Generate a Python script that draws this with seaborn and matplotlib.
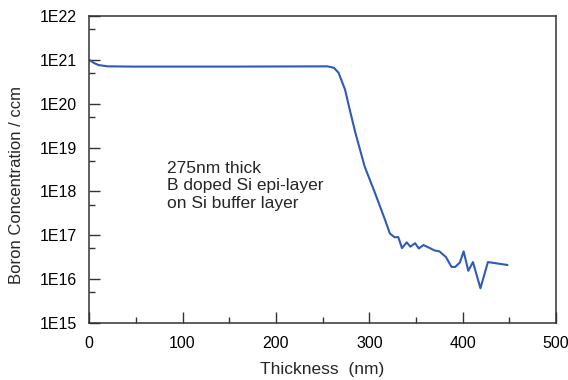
import matplotlib
matplotlib.use("Agg")
import matplotlib.pyplot as plt
import numpy as np
import pandas as pd
import seaborn as sns
from matplotlib.ticker import LogLocator, FuncFormatter, MultipleLocator

# depth profile
thickness = [0, 5, 10, 20, 50, 100, 150, 200, 255, 262, 267, 274, 278, 285,
             295, 306, 317, 322, 327, 331, 335, 340, 344, 349, 353, 358, 370,
             375, 382, 388, 392, 397, 401, 406, 411, 419, 427, 448]
concentration = [1.0e21, 8.5e20, 7.6e20, 7.1e20, 7.0e20, 7.0e20, 7.0e20, 7.05e20,
                 7.1e20, 6.6e20, 5.1e20, 2.1e20, 9.0e19, 2.2e19, 3.7e18, 9.3e17,
                 2.2e17, 1.1e17, 9.0e16, 9.1e16, 5.1e16, 6.9e16, 5.5e16, 6.6e16,
                 5.0e16, 6.0e16, 4.5e16, 4.3e16, 3.2e16, 1.9e16, 1.9e16, 2.4e16,
                 4.3e16, 1.55e16, 2.45e16, 6.2e15, 2.45e16, 2.1e16]

note = "275nm thick\nB doped Si epi-layer\non Si buffer layer"

sns.set_style("white")
plt.rcParams['font.family'] = ['Liberation Sans', 'DejaVu Sans']

df = pd.DataFrame({"thickness": thickness, "conc": concentration})

fig = plt.figure(figsize=(5.68, 3.8), dpi=100)
ax = fig.add_axes([0.157, 0.15, 0.822, 0.808])

sns.lineplot(data=df, x="thickness", y="conc", ax=ax, color="#2f5bb7", linewidth=1.5)

ax.set_yscale("log")
ax.set_xlim(0, 500)
ax.set_ylim(1e15, 1e22)
ax.xaxis.set_major_locator(MultipleLocator(100))
ax.xaxis.set_minor_locator(MultipleLocator(50))
ax.yaxis.set_major_locator(LogLocator(base=10, numticks=20))
ax.yaxis.set_minor_locator(LogLocator(base=10, subs=[5.0], numticks=20))
ax.yaxis.set_major_formatter(FuncFormatter(lambda v, p: "1E%d" % round(np.log10(v))))
ax.yaxis.set_minor_formatter(FuncFormatter(lambda v, p: ""))

ax.tick_params(which="both", direction="in", colors="#333333", labelcolor="black",
               labelsize=11.5, bottom=True, left=True, top=False, right=False)
ax.tick_params(which="major", length=8, width=1, pad=9)
ax.tick_params(which="minor", length=4, width=1)

for s in ax.spines.values():
    s.set_color("#333333")
    s.set_linewidth(1.1)

ax.set_xlabel("Thickness  (nm)", fontsize=12.5, labelpad=8)
ax.set_ylabel("Boron Concentration / ccm", fontsize=12)
ax.yaxis.set_label_coords(-0.14, 0.448)

ax.text(83, 10**18.7, note, fontsize=12.5, va="top", ha="left", linespacing=1.22)

plt.savefig("out.png", dpi=100)
plt.close()
